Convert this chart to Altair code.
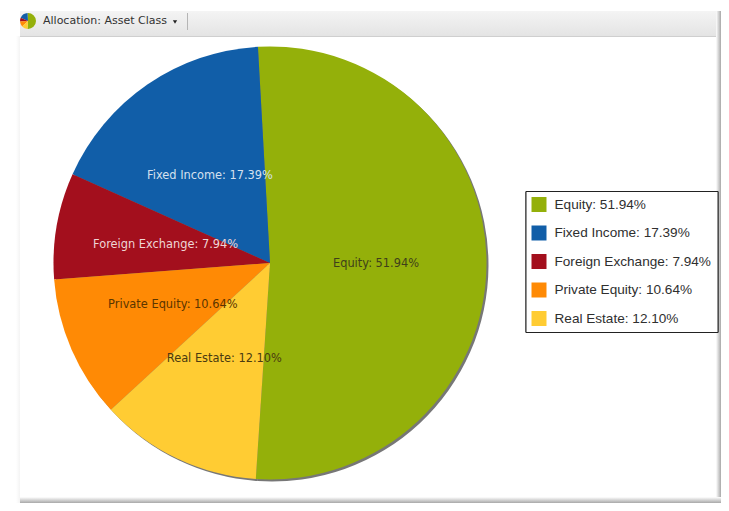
import math
import altair as alt
import pandas as pd

# Chart values
categories = ["Equity", "Fixed Income", "Foreign Exchange", "Private Equity", "Real Estate"]
shares = [51.94, 17.39, 7.94, 10.64, 12.10]
clockwise_rank = [0, 4, 3, 2, 1]
colors = ["#94B00A", "#115EA8", "#A30F1D", "#FF8A05", "#FFCC33"]
label_colors = ["#3f3f1a", "#d5e0ee", "#eed5d5", "#5a3500", "#4a3a10"]
header_title = "Allocation: Asset Class"

df = pd.DataFrame({
    "name": categories,
    "share": shares,
    "rank": clockwise_rank,
    "tone": label_colors,
})
df["label"] = [f"{c}: {s:.2f}%" for c, s in zip(categories, shares)]

start = math.radians(-3.2)
theta_scale = alt.Scale(range=[start, start + 2 * math.pi])
theta = alt.Theta("share:Q", stack=True, scale=theta_scale)
order = alt.Order("rank:Q")
cx, cy = 262, 255
R = 216.5

color = alt.Color(
    "label:N",
    scale=alt.Scale(domain=list(df["label"]), range=colors),
    legend=alt.Legend(
        title=None, orient="none", legendX=517.5, legendY=183,
        symbolType="square", symbolSize=225, symbolStrokeWidth=0, symbolOpacity=1,
        labelFont="Liberation Sans", labelFontSize=13.6, labelColor="#2f2f2f",
        labelLimit=400, labelOffset=8, rowPadding=13.5,
        padding=6, strokeColor="#222222", fillColor="#ffffff",
    ),
)

base = alt.Chart(df)
one = alt.Data(values=[{"k": 1}])


def box(x, x2, y, y2, fill):
    return alt.Chart(one).mark_rect(fill=fill, clip=False).encode(
        x=alt.value(x), x2=alt.value(x2), y=alt.value(y), y2=alt.value(y2)
    )


def grad(x1, y1, x2, y2, c1, c2):
    return alt.LinearGradient(
        gradient="linear", x1=x1, y1=y1, x2=x2, y2=y2,
        stops=[alt.GradientStop(offset=0, color=c1), alt.GradientStop(offset=1, color=c2)],
    )


header = box(12, 708, 3, 28, grad(0, 0, 0, 1, "#f4f4f4", "#e4e4e4"))
header_line = box(12, 708, 28, 29, "#cfcfcf")
right_shade = box(708, 713, 3, 495, grad(0, 0, 1, 0, "#ffffff", "#a8a8a8"))
bottom_shade = box(12, 713, 489, 495, grad(0, 0, 0, 1, "#ffffff", "#a8a8a8"))
left_shade = box(8, 12, 28, 495, grad(0, 0, 1, 0, "#ffffff", "#f4f4f4"))
separator = box(179, 180, 5, 22, "#b5b5b5")

title = alt.Chart(one).mark_text(
    text=header_title, font="DejaVu Sans", fontSize=11, align="left", baseline="middle", color="#333333"
).encode(x=alt.value(35), y=alt.value(13))
caret = alt.Chart(one).mark_point(
    shape="triangle-down", filled=True, size=18, color="#222222", opacity=1
).encode(x=alt.value(167), y=alt.value(14))

icon = base.mark_arc(outerRadius=8).encode(
    theta=theta, order=order, color=color, x=alt.value(20), y=alt.value(13)
)
shadow = base.mark_arc(outerRadius=R, fill="#777777").encode(
    theta=theta, order=order, x=alt.value(cx + 2), y=alt.value(cy + 2)
)
pie = base.mark_arc(outerRadius=R).encode(
    theta=theta, order=order, color=color, x=alt.value(cx), y=alt.value(cy)
)
labels = base.mark_text(
    radius=106, font="DejaVu Sans", fontSize=11.4, align="center", baseline="middle"
).encode(
    theta=theta, order=order, text="label:N", detail="label:N",
    color=alt.Color("tone:N", scale=None, legend=None),
    x=alt.value(cx), y=alt.value(cy),
)

chart = alt.layer(
    left_shade, right_shade, bottom_shade, header, header_line, separator,
    title, caret, icon, shadow, pie, labels,
).resolve_scale(color="independent", theta="shared").properties(
    width=713, height=495, padding=0,
    autosize=alt.AutoSizeParams(type="none"),
    background="#ffffff",
).configure_view(stroke=None)

chart.save("out.html", embed_options={"renderer": "svg", "actions": False})
